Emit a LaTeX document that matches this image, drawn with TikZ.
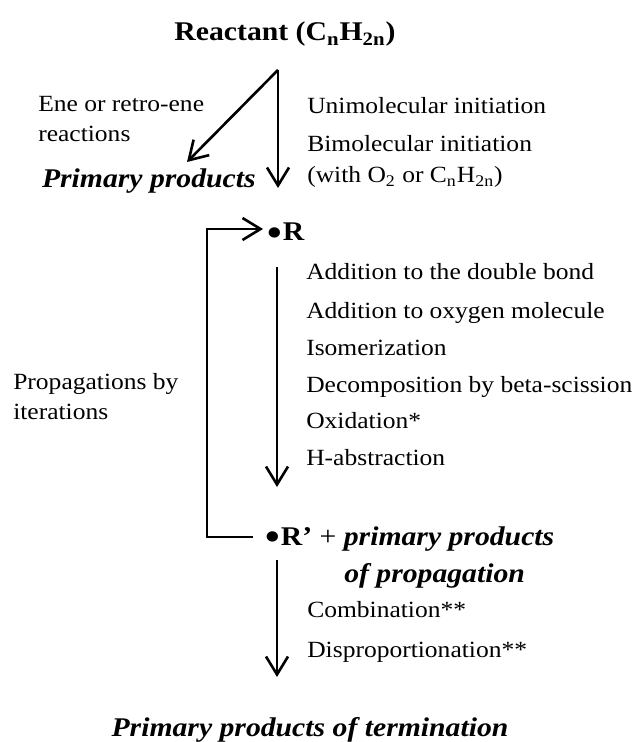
\documentclass[tikz,border=0pt]{standalone}
\usepackage{fontspec}
\setmainfont{Liberation Serif}[FakeStretch=1.1]
\usetikzlibrary{arrows.meta}
\newcommand{\bigdot}{\raisebox{-2.2pt}{\fontsize{19}{19}\selectfont\textbullet}}

\begin{document}
\begin{tikzpicture}[x=0.5pt, y=-0.5pt, line width=1.3pt,
  >={Straight Barb[length=9pt,width=11pt]},
  txt/.style={inner sep=0, anchor=base west, font=\fontsize{11.6}{15}\selectfont},
  bld/.style={inner sep=0, anchor=base west, font=\fontsize{13.5}{17}\selectfont\bfseries},
  bit/.style={inner sep=0, anchor=base west, font=\fontsize{13.5}{17}\selectfont\bfseries\itshape}]
	\useasboundingbox (0,0) rectangle (636,742);
	% initiation
	\node [bld, anchor=base] (reactant) at (285,41) {Reactant (C\textsubscript{n}H\textsubscript{2n})};
	\coordinate (apex) at (278,70);
	\coordinate (enetip) at (187,162);
	\coordinate (inittip) at (278,188);
	\draw [->] (apex) -- (enetip);
	\draw [->] (apex) -- (inittip);
	\node [txt] (ene1) at (37,112) {Ene or retro-ene};
	\node [txt] (ene2) at (37,142) {reactions};
	\node [bit, anchor=base east] (primary) at (257,188) {Primary products};
	\node [txt] (uni) at (306,114) {Unimolecular initiation};
	\node [txt] (bi) at (306,152) {Bimolecular initiation};
	\node [txt] (with) at (306,183) {(with O\textsubscript{2} or C\textsubscript{n}H\textsubscript{2n})};
	% propagation
	\node [bld] (radical) at (266,241) {\bigdot\hspace{0.5pt}R};
	\coordinate (proptop) at (277,267);
	\coordinate (proptip) at (277,487);
	\draw [->] (proptop) -- (proptip);
	\foreach \y/\t [count=\i] in {280/Addition to the double bond, 319/Addition to oxygen molecule,
	    355/Isomerization, 392/Decomposition by beta-scission, 428/Oxidation*, 465/H-abstraction}
	  \node [txt] (prop\i) at (305,\y) {\t};
	\node [txt] (iter1) at (12,389) {Propagations by};
	\node [txt] (iter2) at (12,419) {iterations};
	\node [bld] (rprime) at (264,545) {\bigdot\hspace{0.5pt}R’ {\mdseries +} {\itshape primary products}};
	\node [bit] (ofprop) at (343,582) {of propagation};
	\coordinate (loopstart) at (253,537);
	\coordinate (looptip) at (263,229);
	\draw [->] (loopstart) -- ++(-46,0) |- (looptip);
	% termination
	\coordinate (termtop) at (277,560);
	\coordinate (termtip) at (277,677);
	\draw [->] (termtop) -- (termtip);
	\node [txt] (comb) at (306,617) {Combination**};
	\node [txt] (disp) at (306,657) {Disproportionation**};
	\node [bit, anchor=base] (termination) at (310,736) {Primary products of termination};
\end{tikzpicture}
\end{document}
